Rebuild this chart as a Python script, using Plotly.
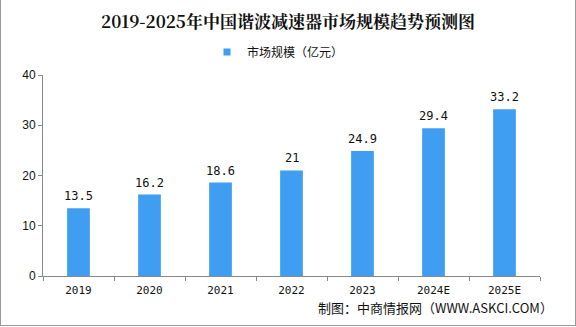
import plotly.graph_objects as go

years = ["2019", "2020", "2021", "2022", "2023", "2024E", "2025E"]
market_size = [13.5, 16.2, 18.6, 21, 24.9, 29.4, 33.2]
labels = ["13.5", "16.2", "18.6", "21", "24.9", "29.4", "33.2"]
y_ticks = [0, 10, 20, 30, 40]
bar_color = "#3F9EF2"

W, H = 576, 327
L, R, T, B = 43, 36, 75, 51
pw, ph = W - L - R, H - T - B

def px_x(x):
    return (x - L) / pw

def px_y(y):
    return (H - B - y) / ph

fig = go.Figure()
fig.add_trace(go.Bar(
    x=years, y=market_size, name="市场规模（亿元）",
    marker=dict(color=bar_color, line=dict(width=0)),
    width=0.32, showlegend=False,
))
# legend entry with small square marker (no visible data)
fig.add_trace(go.Scatter(
    x=years[:1], y=[None], mode="markers", name="市场规模（亿元）",
    marker=dict(symbol="square", size=7, color=bar_color),
    showlegend=True, hoverinfo="skip",
))

annotations = []
for i, (v, lab) in enumerate(zip(market_size, labels)):
    annotations.append(dict(x=i, y=v, text=lab, xref="x", yref="y",
                            showarrow=False, yanchor="middle", yshift=12,
                            font=dict(size=12, color="#111", family="DejaVu Sans Mono, monospace")))
annotations.append(dict(text="制图：中商情报网（WWW.ASKCI.COM）", xref="paper", yref="paper",
                        x=px_x(555), xanchor="right", y=px_y(307), yanchor="middle",
                        showarrow=False,
                        font=dict(size=13, color="#111", family="Noto Sans CJK SC")))

fig.update_layout(
    width=W, height=H,
    margin=dict(l=L, r=R, t=T, b=B),
    paper_bgcolor="white", plot_bgcolor="white",
    title=dict(text="<b>2019-2025年中国谐波减速器市场规模趋势预测图</b>",
               x=0.5, xanchor="center", y=1 - 22 / H, yanchor="middle",
               font=dict(size=17, color="#111", family="Noto Serif CJK SC, Noto Sans CJK SC")),
    showlegend=True,
    legend=dict(orientation="h", x=px_x(207), xanchor="left", y=px_y(52), yanchor="middle",
                font=dict(size=12, color="#111", family="Noto Sans CJK SC"),
                itemwidth=30, itemsizing="trace", bgcolor="rgba(0,0,0,0)"),
    xaxis=dict(type="category", categoryorder="array", categoryarray=years,
               range=[-0.5, len(years) - 0.5],
               showline=True, linecolor="#888", linewidth=1,
               ticks="outside", ticklen=4, tickcolor="#888", tickson="boundaries",
               ticklabelstandoff=4,
               tickfont=dict(size=11, color="#111", family="DejaVu Sans Mono, monospace"),
               showgrid=False, zeroline=False),
    yaxis=dict(range=[0, 40], tickvals=y_ticks, showline=True, linecolor="#888", linewidth=1,
               ticks="outside", ticklen=4, tickcolor="#888",
               tickfont=dict(size=12, color="#111", family="Liberation Sans, Arial"),
               showgrid=False, zeroline=False),
    annotations=annotations,
    shapes=[
        dict(type="line", xref="paper", yref="paper", x0=px_x(0.5), x1=px_x(0.5), y0=px_y(0), y1=px_y(326), line=dict(color="#999", width=1)),
        dict(type="line", xref="paper", yref="paper", x0=px_x(575.5), x1=px_x(575.5), y0=px_y(0), y1=px_y(326), line=dict(color="#999", width=1)),
        dict(type="line", xref="paper", yref="paper", x0=px_x(0), x1=px_x(576), y0=px_y(325.5), y1=px_y(325.5), line=dict(color="#999", width=1)),
    ],
)

fig.write_html("out.html")
